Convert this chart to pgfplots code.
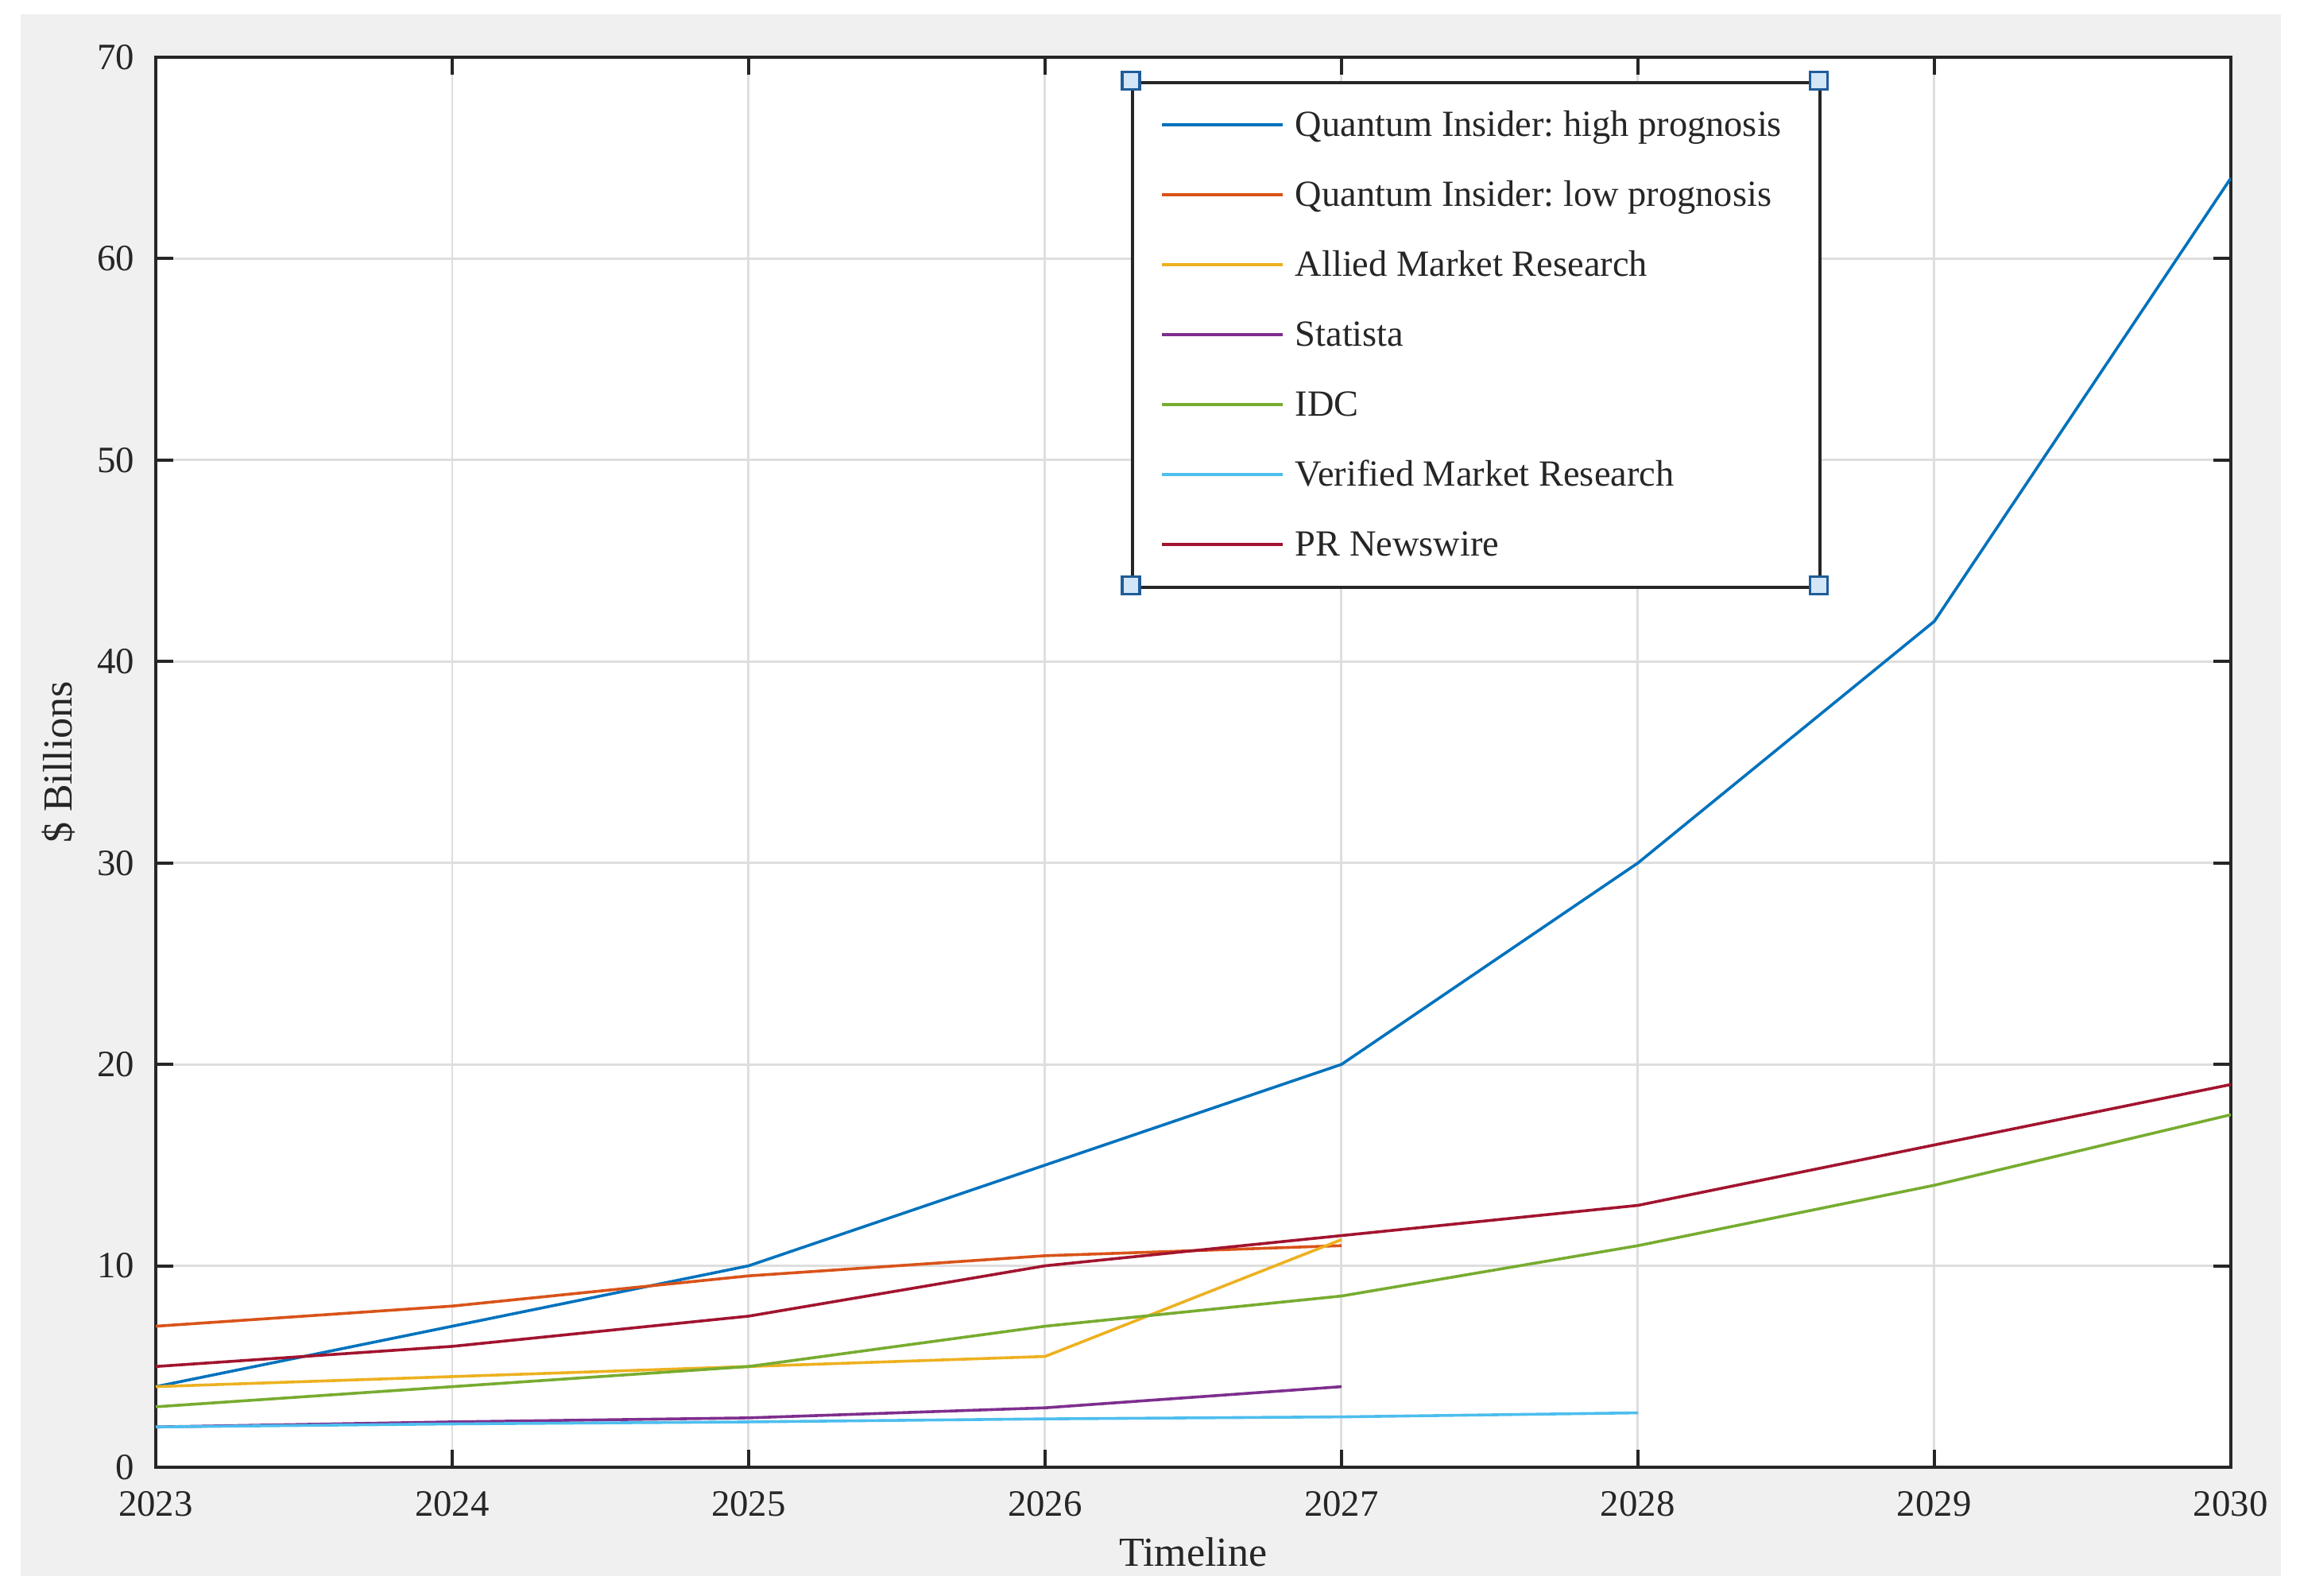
\documentclass[border=0pt]{standalone}
\usepackage{fontspec}
\setmainfont{Liberation Serif}
\usepackage{pgfplots}
\pgfplotsset{compat=1.18}
\frenchspacing

% MATLAB default line colours
\definecolor{mA}{rgb}{0,0.447,0.741}
\definecolor{mB}{rgb}{0.850,0.325,0.098}
\definecolor{mC}{rgb}{0.929,0.694,0.125}
\definecolor{mD}{rgb}{0.494,0.184,0.556}
\definecolor{mE}{rgb}{0.466,0.674,0.188}
\definecolor{mF}{rgb}{0.301,0.745,0.933}
\definecolor{mG}{rgb}{0.635,0.078,0.184}
\definecolor{figgray}{HTML}{F0F0F0}
\definecolor{axgray}{HTML}{262626}
\definecolor{handlefill}{HTML}{D3E6F7}
\definecolor{handleedge}{HTML}{1F5C99}

\begin{document}
\begin{tikzpicture}
\fill[white] (-49pt,-40.5pt) rectangle (674.5pt,461.5pt);
\fill[figgray] (-42.5pt,-34.25pt) rectangle (668.5pt,457pt);
\begin{axis}[
    scale only axis,
    width=652.75pt, height=443.5pt,
    xmin=2023, xmax=2030, ymin=0, ymax=70,
    xtick={2023,...,2030}, ytick={0,10,...,70},
    /pgf/number format/1000 sep={},
    /pgf/number format/assume math mode=true,
    axis background/.style={fill=white},
    axis line style={line width=1.1pt, axgray},
    tick align=inside,
    major tick length=5.5pt,
    tick style={line width=1pt, axgray},
    grid=major,
    major grid style={line width=0.7pt, black!13},
    tick label style={font=\fontsize{11.7}{14}\selectfont, text=axgray},
    xticklabel style={inner sep=0pt, yshift=-7.5pt},
    yticklabel style={inner sep=0pt, xshift=-6.5pt},
    xlabel={Timeline},
    ylabel={\$ Billions},
    label style={font=\fontsize{13}{15}\selectfont, text=axgray, inner sep=0pt},
    xlabel style={at={(axis description cs:0.5,0)}, anchor=center, yshift=-26.8pt},
    ylabel style={at={([xshift=-30.5pt]axis description cs:0,0.5)}, anchor=center},
    every axis plot/.append style={line width=0.9pt},
    legend cell align=left,
    legend image code/.code={\draw[#1] (0pt,0pt) -- (37.8pt,0pt);},
    legend style={
        at={(axis description cs:0.46993,0.98331)}, anchor=north west,
        draw=axgray, line width=1pt, fill=white,
        inner xsep=8.9pt, inner ysep=2.4pt,
        column sep=3.6pt, row sep=0pt,
        font=\fontsize{11.6}{14}\selectfont, text=axgray,
        nodes={inner sep=0pt, text height=14.5pt, text depth=7.5pt},
    },
]
\addplot[mA] coordinates {
    (2023,4) (2024,7) (2025,10) (2026,15) (2027,20) (2028,30) (2029,42) (2030,64)
};
\addlegendentry{Quantum Insider: high prognosis\rule{3pt}{0pt}}
\addplot[mB] coordinates {
    (2023,7) (2024,8) (2025,9.5) (2026,10.5) (2027,11)
};
\addlegendentry{Quantum Insider: low prognosis}
\addplot[mC] coordinates {
    (2023,4) (2024,4.5) (2025,5) (2026,5.5) (2027,11.3)
};
\addlegendentry{Allied Market Research}
\addplot[mD] coordinates {
    (2023,2) (2024,2.25) (2025,2.45) (2026,2.95) (2027,4)
};
\addlegendentry{Statista}
\addplot[mE] coordinates {
    (2023,3) (2024,4) (2025,5) (2026,7) (2027,8.5) (2028,11) (2029,14) (2030,17.5)
};
\addlegendentry{IDC}
\addplot[mF] coordinates {
    (2023,2) (2024,2.15) (2025,2.25) (2026,2.4) (2027,2.5) (2028,2.7)
};
\addlegendentry{Verified Market Research}
\addplot[mG] coordinates {
    (2023,5) (2024,6) (2025,7.5) (2026,10) (2027,11.5) (2028,13) (2029,16) (2030,19)
};
\addlegendentry{PR Newswire}
\end{axis}
% selection handles at the legend corners
\foreach \hx/\hy in {306.75/436.1, 523.2/436.1, 306.75/277.3, 523.2/277.3}
    \filldraw[fill=handlefill, draw=handleedge, line width=0.8pt]
        (\hx pt-2.75pt,\hy pt-2.75pt) rectangle (\hx pt+2.75pt,\hy pt+2.75pt);
\end{tikzpicture}
\end{document}
